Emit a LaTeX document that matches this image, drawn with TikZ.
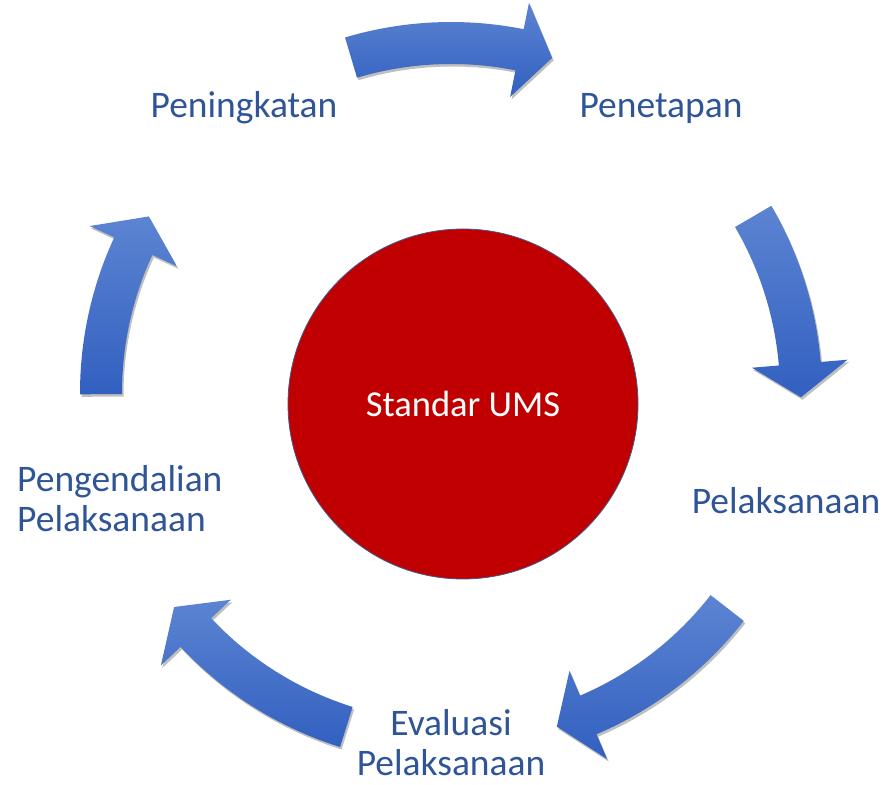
\documentclass[tikz,border=0pt]{standalone}
\usepackage{fontspec}
\setmainfont{Carlito}
\usepackage{tikz}
\usetikzlibrary{calc, positioning, shadows}

\definecolor{ringtop}{RGB}{92,132,210}
\definecolor{ringbot}{RGB}{50,96,192}
\definecolor{corered}{RGB}{192,0,0}
\definecolor{coreline}{RGB}{65,90,140}
\definecolor{labelblue}{RGB}{47,85,151}

\begin{document}
\begin{tikzpicture}[
    x=1pt, y=1pt,
    flowarrow/.style={top color=ringtop, bottom color=ringbot, draw=none,
        drop shadow={shadow xshift=1.5pt, shadow yshift=-2.5pt, opacity=0.25, fill=black}},
    core/.style={circle, minimum size=350pt, fill=corered, draw=coreline,
        line width=0.8pt, text=white, font=\fontsize{36.5}{40}\selectfont},
    stagelabel/.style={text=labelblue, inner sep=0pt, font=\fontsize{37.5}{40}\selectfont}
]
    \useasboundingbox (0,0) rectangle (882,784);

    % Centre of the cycle ring
    \coordinate (ring) at (451,391);

    % Curved arrows (tail angle / tip angle, clockwise)
    \begin{scope}[shift={(ring)}]
        \foreach \tail/\tip [evaluate=\tip as \base using \tip+5.5] in
            {106.6/73.2, 30.3/-0.7, -37.9/-72.4, -107.4/-142.3, 180.2/149.7} {
            \path[flowarrow] (\tail:371) arc[start angle=\tail, end angle=\base, radius=371]
                -- (\base:398) -- (\tip:350) -- (\base:302) -- (\base:329)
                arc[start angle=\base, end angle=\tail, radius=329] -- cycle;
        }
    \end{scope}

    % Core circle
    \node[core] (core) at (463,380) {Standar UMS};

    % Stage labels
    \node[stagelabel, anchor=base] (penetapan) at (661,666) {Penetapan};
    \node[stagelabel, anchor=base] (pelaksanaan) at (786,270) {Pelaksanaan};
    \node[stagelabel, anchor=base, align=center] (evaluasi) at (451,9) {Evaluasi\\Pelaksanaan};
    \node[stagelabel, anchor=base west, align=left] (pengendalian) at (17,252) {Pengendalian\\Pelaksanaan};
    \node[stagelabel, anchor=base] (peningkatan) at (244,666) {Peningkatan};

\end{tikzpicture}
\end{document}
